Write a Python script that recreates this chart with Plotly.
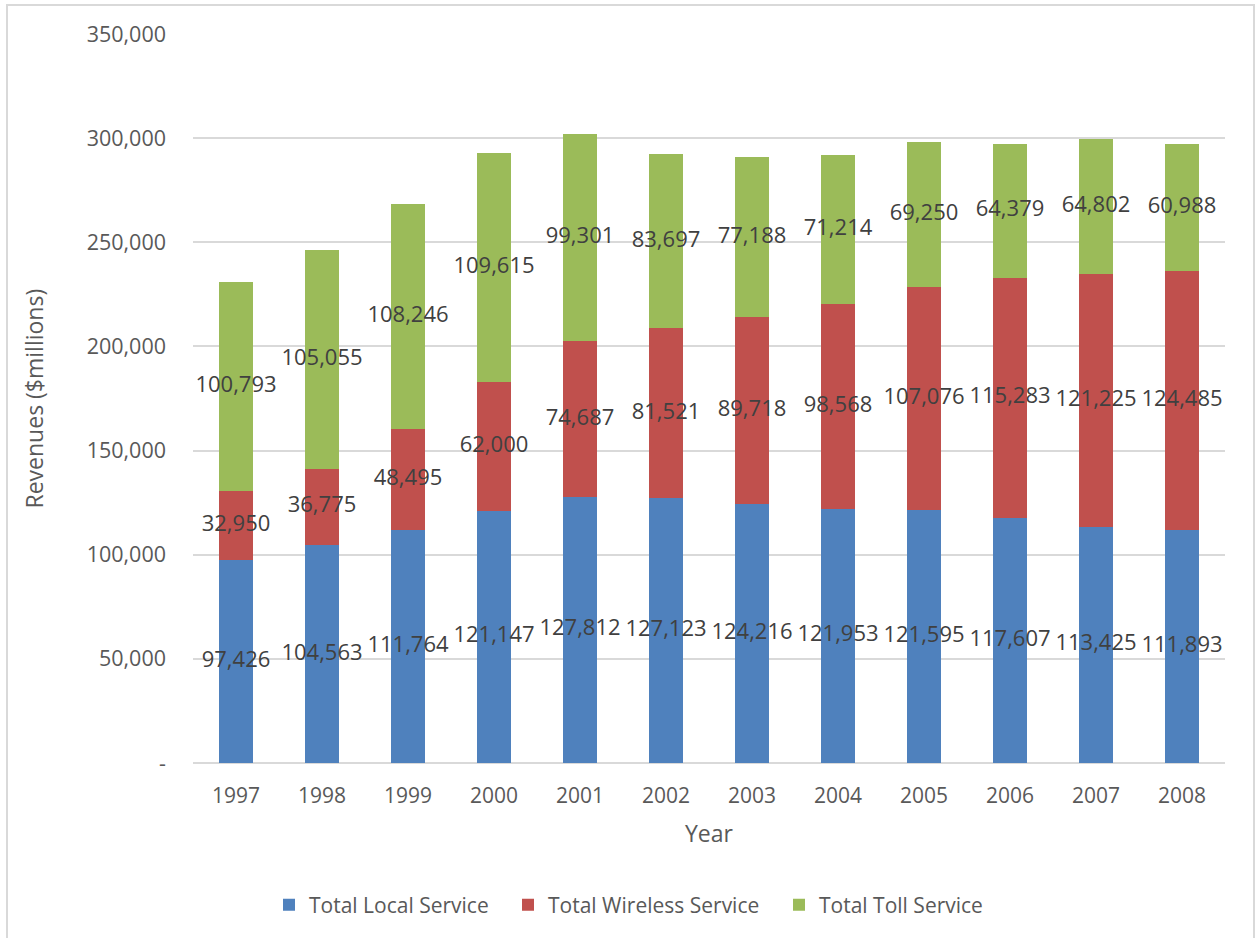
import plotly.graph_objects as go

# Annual revenues by service type ($ millions)
years = ["1997", "1998", "1999", "2000", "2001", "2002",
         "2003", "2004", "2005", "2006", "2007", "2008"]
local_service = [97426, 104563, 111764, 121147, 127812, 127123,
                 124216, 121953, 121595, 117607, 113425, 111893]
wireless_service = [32950, 36775, 48495, 62000, 74687, 81521,
                    89718, 98568, 107076, 115283, 121225, 124485]
toll_service = [100793, 105055, 108246, 109615, 99301, 83697,
                77188, 71214, 69250, 64379, 64802, 60988]

y_tick_vals = [0, 50000, 100000, 150000, 200000, 250000, 300000, 350000]
y_tick_text = ["-", "50,000", "100,000", "150,000", "200,000",
               "250,000", "300,000", "350,000"]

series = [
    ("Total Local Service", local_service, "#4F81BD", "legend"),
    ("Total Wireless Service", wireless_service, "#C0504D", "legend2"),
    ("Total Toll Service", toll_service, "#9BBB59", "legend3"),
]

FONT = "Open Sans"
TEXT_GREY = "#595959"

# Plot area in pixels, used to place the legends and the frame
L_PX, R_PX, T_PX, B_PX = 193, 1225, 34, 763
W_PX, H_PX = R_PX - L_PX, B_PX - T_PX


def px_x(px):
    return (px - L_PX) / W_PX


def px_y(py):
    return (B_PX - py) / H_PX


fig = go.Figure()

base = [0] * len(years)
label_x, label_y, label_text = [], [], []
for name, vals, color, leg in series:
    fig.add_trace(go.Bar(
        x=years, y=vals, name=name, legend=leg,
        marker=dict(color=color, line=dict(width=0)),
    ))
    for i, v in enumerate(vals):
        label_x.append(years[i])
        label_y.append(base[i] + v / 2)
        label_text.append(f"{v:,}")
    base = [b + v for b, v in zip(base, vals)]

# Value labels centred on each segment
fig.add_trace(go.Scatter(
    x=label_x, y=label_y, text=label_text, mode="text",
    textposition="middle center",
    textfont=dict(family=FONT, size=22, color="#404040"),
    showlegend=False, hoverinfo="skip",
))


def legend_box(left_px):
    return dict(
        orientation="h", x=px_x(left_px), xanchor="left",
        y=px_y(905), yanchor="middle",
        font=dict(family=FONT, size=21, color=TEXT_GREY),
        itemclick=False, itemdoubleclick=False,
        bgcolor="rgba(0,0,0,0)", borderwidth=0,
    )


fig.update_layout(
    width=1256, height=938,
    margin=dict(l=L_PX, r=1256 - R_PX, t=T_PX, b=938 - B_PX),
    barmode="stack", bargap=0.605,
    plot_bgcolor="white", paper_bgcolor="white",
    font=dict(family=FONT, size=21, color=TEXT_GREY),
    showlegend=True,
    legend=legend_box(269),
    legend2=legend_box(508),
    legend3=legend_box(779),
    xaxis=dict(
        type="category", range=[-0.5, len(years) - 0.5],
        showgrid=False, showline=False, zeroline=False,
        ticks="", ticklabelstandoff=18,
        tickfont=dict(family=FONT, size=21, color=TEXT_GREY),
    ),
    yaxis=dict(
        range=[0, 350000], tickvals=y_tick_vals, ticktext=y_tick_text,
        showgrid=True, gridcolor="#D9D9D9", gridwidth=1.5,
        zeroline=True, zerolinecolor="#D9D9D9", zerolinewidth=1.5,
        showline=False, ticks="", ticklabelstandoff=26,
        tickfont=dict(family=FONT, size=21.5, color=TEXT_GREY),
    ),
    annotations=[
        dict(text="Revenues ($millions)", xref="paper", yref="paper",
             x=0, y=0.5, xshift=33 - L_PX, textangle=-90, showarrow=False,
             xanchor="center", yanchor="middle",
             font=dict(family=FONT, size=23, color=TEXT_GREY)),
        dict(text="Year", xref="paper", yref="paper",
             x=0.5, y=0, yshift=-(833 - B_PX), showarrow=False,
             xanchor="center", yanchor="middle",
             font=dict(family=FONT, size=23, color=TEXT_GREY)),
    ],
    shapes=[
        dict(type="rect", xref="paper", yref="paper",
             x0=px_x(7), x1=px_x(1254), y0=px_y(945), y1=px_y(5),
             line=dict(color="#D9D9D9", width=2), fillcolor="rgba(0,0,0,0)",
             layer="below"),
    ],
)

fig.write_html("out.html")
